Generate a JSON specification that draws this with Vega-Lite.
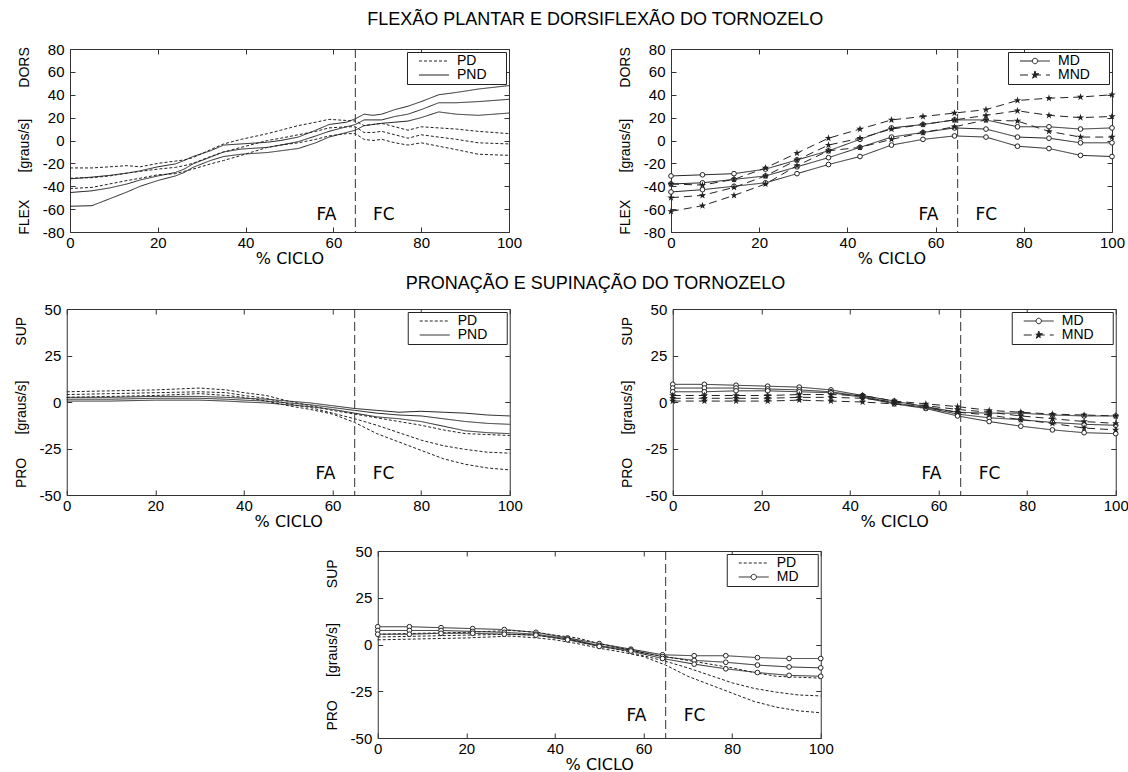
{
"$schema": "https://vega.github.io/schema/vega-lite/v6.json",
"background": "white",
"padding": {"left": 14, "top": 10, "right": 3, "bottom": 1},
"config": {
 "font": "Liberation Sans",
 "view": {"stroke": "#333", "strokeWidth": 1},
 "axis": {"grid": false, "domain": false, "ticks": true, "tickSize": -5, "tickColor": "#333", "tickWidth": 1, "labelFont": "Liberation Sans", "labelFontSize": 15, "labelColor": "#000", "labelFlush": false, "labelOverlap": false, "labelExpr": "toString(datum.value)", "titleColor": "#000", "titleFontWeight": "normal"},
 "axisBottom": {"labelPadding": 8, "titleFont": "DejaVu Sans", "titleFontSize": 16, "titlePadding": 0, "minExtent": 18, "maxExtent": 18},
 "axisLeft": {"labelPadding": 11, "titleFont": "Liberation Sans", "titleFontSize": 14, "titlePadding": 10, "minExtent": 28, "maxExtent": 28},
 "axisTop": {"labels": false},
 "axisRight": {"labels": false},
 "legend": {"orient": "top-right", "offset": 3, "padding": 2, "strokeColor": "#222", "fillColor": "white", "cornerRadius": 0, "labelFont": "Liberation Sans", "labelFontSize": 14, "labelColor": "#000", "titleOrient": "right", "titlePadding": 17, "titleFontSize": 14, "titleFont": "Liberation Sans", "symbolType": "M-5,0L5,0", "symbolSize": 36, "symbolStrokeWidth": 1, "symbolStrokeColor": "#222", "symbolFillColor": "transparent", "symbolOffset": 18, "labelOffset": 16, "rowPadding": -2},
 "title": {"font": "Liberation Sans", "fontSize": 18, "fontWeight": "normal", "color": "#000", "anchor": "middle", "baseline": "middle", "dx": 24}
},
"datasets": {
 "dors": [
  {"g":"PD","c":1,"x":0,"v":-24},{"g":"PD","c":1,"x":5,"v":-24},{"g":"PD","c":1,"x":9,"v":-23},{"g":"PD","c":1,"x":13,"v":-22},{"g":"PD","c":1,"x":16,"v":-23},{"g":"PD","c":1,"x":20,"v":-20},{"g":"PD","c":1,"x":24,"v":-18},{"g":"PD","c":1,"x":26,"v":-17},{"g":"PD","c":1,"x":28,"v":-15},{"g":"PD","c":1,"x":32,"v":-8},{"g":"PD","c":1,"x":35,"v":-3},{"g":"PD","c":1,"x":39,"v":1},{"g":"PD","c":1,"x":45,"v":6},{"g":"PD","c":1,"x":48,"v":9},{"g":"PD","c":1,"x":52,"v":13},{"g":"PD","c":1,"x":56,"v":16},{"g":"PD","c":1,"x":59,"v":18.5},{"g":"PD","c":1,"x":63,"v":17.5},{"g":"PD","c":1,"x":65,"v":17},{"g":"PD","c":1,"x":67,"v":13},{"g":"PD","c":1,"x":69,"v":14},{"g":"PD","c":1,"x":71,"v":15},{"g":"PD","c":1,"x":74,"v":12},{"g":"PD","c":1,"x":77,"v":9},{"g":"PD","c":1,"x":80,"v":12},{"g":"PD","c":1,"x":84,"v":11},{"g":"PD","c":1,"x":88,"v":10},{"g":"PD","c":1,"x":93,"v":8},{"g":"PD","c":1,"x":100,"v":6},
  {"g":"PD","c":2,"x":0,"v":-33},{"g":"PD","c":2,"x":5,"v":-32.5},{"g":"PD","c":2,"x":9,"v":-31},{"g":"PD","c":2,"x":13,"v":-28.5},{"g":"PD","c":2,"x":16,"v":-27},{"g":"PD","c":2,"x":20,"v":-25},{"g":"PD","c":2,"x":24,"v":-23.5},{"g":"PD","c":2,"x":26,"v":-22},{"g":"PD","c":2,"x":28,"v":-20},{"g":"PD","c":2,"x":32,"v":-14},{"g":"PD","c":2,"x":35,"v":-10},{"g":"PD","c":2,"x":39,"v":-6},{"g":"PD","c":2,"x":45,"v":0},{"g":"PD","c":2,"x":48,"v":2},{"g":"PD","c":2,"x":52,"v":5},{"g":"PD","c":2,"x":56,"v":8},{"g":"PD","c":2,"x":59,"v":11},{"g":"PD","c":2,"x":63,"v":12},{"g":"PD","c":2,"x":65,"v":12},{"g":"PD","c":2,"x":67,"v":7},{"g":"PD","c":2,"x":69,"v":7},{"g":"PD","c":2,"x":71,"v":8},{"g":"PD","c":2,"x":74,"v":5},{"g":"PD","c":2,"x":77,"v":2},{"g":"PD","c":2,"x":80,"v":5},{"g":"PD","c":2,"x":84,"v":3},{"g":"PD","c":2,"x":88,"v":1},{"g":"PD","c":2,"x":93,"v":-2},{"g":"PD","c":2,"x":100,"v":-3},
  {"g":"PD","c":3,"x":0,"v":-42},{"g":"PD","c":3,"x":5,"v":-41},{"g":"PD","c":3,"x":9,"v":-38},{"g":"PD","c":3,"x":13,"v":-35},{"g":"PD","c":3,"x":16,"v":-33},{"g":"PD","c":3,"x":20,"v":-30},{"g":"PD","c":3,"x":24,"v":-29},{"g":"PD","c":3,"x":26,"v":-27},{"g":"PD","c":3,"x":28,"v":-25},{"g":"PD","c":3,"x":32,"v":-20.5},{"g":"PD","c":3,"x":35,"v":-17.5},{"g":"PD","c":3,"x":39,"v":-13},{"g":"PD","c":3,"x":45,"v":-6},{"g":"PD","c":3,"x":48,"v":-4},{"g":"PD","c":3,"x":52,"v":-2},{"g":"PD","c":3,"x":56,"v":1},{"g":"PD","c":3,"x":59,"v":4},{"g":"PD","c":3,"x":63,"v":6},{"g":"PD","c":3,"x":65,"v":6},{"g":"PD","c":3,"x":67,"v":1},{"g":"PD","c":3,"x":69,"v":0},{"g":"PD","c":3,"x":71,"v":1},{"g":"PD","c":3,"x":74,"v":-2},{"g":"PD","c":3,"x":77,"v":-4},{"g":"PD","c":3,"x":80,"v":-2},{"g":"PD","c":3,"x":84,"v":-5},{"g":"PD","c":3,"x":88,"v":-8},{"g":"PD","c":3,"x":93,"v":-12},{"g":"PD","c":3,"x":100,"v":-13},
  {"g":"PND","c":1,"x":0,"v":-33.5},{"g":"PND","c":1,"x":5,"v":-32},{"g":"PND","c":1,"x":9,"v":-30.5},{"g":"PND","c":1,"x":13,"v":-28.5},{"g":"PND","c":1,"x":16,"v":-26.5},{"g":"PND","c":1,"x":20,"v":-23},{"g":"PND","c":1,"x":24,"v":-20.5},{"g":"PND","c":1,"x":26,"v":-17.5},{"g":"PND","c":1,"x":28,"v":-14},{"g":"PND","c":1,"x":32,"v":-9},{"g":"PND","c":1,"x":35,"v":-4},{"g":"PND","c":1,"x":39,"v":-3},{"g":"PND","c":1,"x":45,"v":-1.5},{"g":"PND","c":1,"x":48,"v":0},{"g":"PND","c":1,"x":52,"v":3},{"g":"PND","c":1,"x":56,"v":9},{"g":"PND","c":1,"x":59,"v":14},{"g":"PND","c":1,"x":63,"v":16},{"g":"PND","c":1,"x":65,"v":19},{"g":"PND","c":1,"x":67,"v":23},{"g":"PND","c":1,"x":69,"v":22},{"g":"PND","c":1,"x":71,"v":23},{"g":"PND","c":1,"x":74,"v":27},{"g":"PND","c":1,"x":77,"v":30},{"g":"PND","c":1,"x":80,"v":34},{"g":"PND","c":1,"x":84,"v":40},{"g":"PND","c":1,"x":88,"v":42},{"g":"PND","c":1,"x":93,"v":45},{"g":"PND","c":1,"x":100,"v":48},
  {"g":"PND","c":2,"x":0,"v":-45.5},{"g":"PND","c":2,"x":5,"v":-44},{"g":"PND","c":2,"x":9,"v":-41.5},{"g":"PND","c":2,"x":13,"v":-38},{"g":"PND","c":2,"x":16,"v":-34.5},{"g":"PND","c":2,"x":20,"v":-31},{"g":"PND","c":2,"x":24,"v":-28},{"g":"PND","c":2,"x":26,"v":-25},{"g":"PND","c":2,"x":28,"v":-20.5},{"g":"PND","c":2,"x":32,"v":-14.5},{"g":"PND","c":2,"x":35,"v":-10},{"g":"PND","c":2,"x":39,"v":-7.5},{"g":"PND","c":2,"x":45,"v":-6},{"g":"PND","c":2,"x":48,"v":-4},{"g":"PND","c":2,"x":52,"v":-1},{"g":"PND","c":2,"x":56,"v":4},{"g":"PND","c":2,"x":59,"v":8},{"g":"PND","c":2,"x":63,"v":12},{"g":"PND","c":2,"x":65,"v":14},{"g":"PND","c":2,"x":67,"v":18},{"g":"PND","c":2,"x":69,"v":18},{"g":"PND","c":2,"x":71,"v":18},{"g":"PND","c":2,"x":74,"v":21},{"g":"PND","c":2,"x":77,"v":23},{"g":"PND","c":2,"x":80,"v":27},{"g":"PND","c":2,"x":84,"v":33},{"g":"PND","c":2,"x":88,"v":33},{"g":"PND","c":2,"x":93,"v":34},{"g":"PND","c":2,"x":100,"v":36},
  {"g":"PND","c":3,"x":0,"v":-57.5},{"g":"PND","c":3,"x":5,"v":-57},{"g":"PND","c":3,"x":9,"v":-51},{"g":"PND","c":3,"x":13,"v":-45},{"g":"PND","c":3,"x":16,"v":-40},{"g":"PND","c":3,"x":20,"v":-35},{"g":"PND","c":3,"x":24,"v":-31},{"g":"PND","c":3,"x":26,"v":-28},{"g":"PND","c":3,"x":28,"v":-23.5},{"g":"PND","c":3,"x":32,"v":-17.5},{"g":"PND","c":3,"x":35,"v":-14},{"g":"PND","c":3,"x":39,"v":-12},{"g":"PND","c":3,"x":45,"v":-10.5},{"g":"PND","c":3,"x":48,"v":-9},{"g":"PND","c":3,"x":52,"v":-7},{"g":"PND","c":3,"x":56,"v":-2},{"g":"PND","c":3,"x":59,"v":3},{"g":"PND","c":3,"x":63,"v":7},{"g":"PND","c":3,"x":65,"v":9},{"g":"PND","c":3,"x":67,"v":13},{"g":"PND","c":3,"x":69,"v":14},{"g":"PND","c":3,"x":71,"v":15},{"g":"PND","c":3,"x":74,"v":16},{"g":"PND","c":3,"x":77,"v":17},{"g":"PND","c":3,"x":80,"v":20},{"g":"PND","c":3,"x":84,"v":25},{"g":"PND","c":3,"x":88,"v":23},{"g":"PND","c":3,"x":93,"v":22},{"g":"PND","c":3,"x":100,"v":24},
  {"g":"MD","c":1,"x":0,"v":-31},{"g":"MD","c":1,"x":7.14,"v":-30},{"g":"MD","c":1,"x":14.29,"v":-29},{"g":"MD","c":1,"x":21.43,"v":-25},{"g":"MD","c":1,"x":28.57,"v":-17},{"g":"MD","c":1,"x":35.71,"v":-9},{"g":"MD","c":1,"x":42.86,"v":1},{"g":"MD","c":1,"x":50,"v":11},{"g":"MD","c":1,"x":57.14,"v":14},{"g":"MD","c":1,"x":64.29,"v":18},{"g":"MD","c":1,"x":71.43,"v":18},{"g":"MD","c":1,"x":78.57,"v":12},{"g":"MD","c":1,"x":85.71,"v":12},{"g":"MD","c":1,"x":92.86,"v":10},{"g":"MD","c":1,"x":100,"v":11},
  {"g":"MD","c":2,"x":0,"v":-38},{"g":"MD","c":2,"x":7.14,"v":-37},{"g":"MD","c":2,"x":14.29,"v":-34},{"g":"MD","c":2,"x":21.43,"v":-31},{"g":"MD","c":2,"x":28.57,"v":-23},{"g":"MD","c":2,"x":35.71,"v":-15},{"g":"MD","c":2,"x":42.86,"v":-6},{"g":"MD","c":2,"x":50,"v":3},{"g":"MD","c":2,"x":57.14,"v":7},{"g":"MD","c":2,"x":64.29,"v":11},{"g":"MD","c":2,"x":71.43,"v":10},{"g":"MD","c":2,"x":78.57,"v":3},{"g":"MD","c":2,"x":85.71,"v":2},{"g":"MD","c":2,"x":92.86,"v":-2},{"g":"MD","c":2,"x":100,"v":-2},
  {"g":"MD","c":3,"x":0,"v":-45},{"g":"MD","c":3,"x":7.14,"v":-43},{"g":"MD","c":3,"x":14.29,"v":-40},{"g":"MD","c":3,"x":21.43,"v":-37},{"g":"MD","c":3,"x":28.57,"v":-29},{"g":"MD","c":3,"x":35.71,"v":-21},{"g":"MD","c":3,"x":42.86,"v":-14},{"g":"MD","c":3,"x":50,"v":-4},{"g":"MD","c":3,"x":57.14,"v":1},{"g":"MD","c":3,"x":64.29,"v":4},{"g":"MD","c":3,"x":71.43,"v":3},{"g":"MD","c":3,"x":78.57,"v":-5},{"g":"MD","c":3,"x":85.71,"v":-7},{"g":"MD","c":3,"x":92.86,"v":-13},{"g":"MD","c":3,"x":100,"v":-14},
  {"g":"MND","c":1,"x":0,"v":-38},{"g":"MND","c":1,"x":7.14,"v":-39},{"g":"MND","c":1,"x":14.29,"v":-34},{"g":"MND","c":1,"x":21.43,"v":-24},{"g":"MND","c":1,"x":28.57,"v":-11},{"g":"MND","c":1,"x":35.71,"v":2},{"g":"MND","c":1,"x":42.86,"v":10},{"g":"MND","c":1,"x":50,"v":18},{"g":"MND","c":1,"x":57.14,"v":21},{"g":"MND","c":1,"x":64.29,"v":24},{"g":"MND","c":1,"x":71.43,"v":27},{"g":"MND","c":1,"x":78.57,"v":35},{"g":"MND","c":1,"x":85.71,"v":37},{"g":"MND","c":1,"x":92.86,"v":38},{"g":"MND","c":1,"x":100,"v":40},
  {"g":"MND","c":2,"x":0,"v":-50},{"g":"MND","c":2,"x":7.14,"v":-48},{"g":"MND","c":2,"x":14.29,"v":-41},{"g":"MND","c":2,"x":21.43,"v":-31},{"g":"MND","c":2,"x":28.57,"v":-17},{"g":"MND","c":2,"x":35.71,"v":-4},{"g":"MND","c":2,"x":42.86,"v":2},{"g":"MND","c":2,"x":50,"v":10},{"g":"MND","c":2,"x":57.14,"v":14},{"g":"MND","c":2,"x":64.29,"v":18},{"g":"MND","c":2,"x":71.43,"v":22},{"g":"MND","c":2,"x":78.57,"v":26},{"g":"MND","c":2,"x":85.71,"v":22},{"g":"MND","c":2,"x":92.86,"v":20},{"g":"MND","c":2,"x":100,"v":21},
  {"g":"MND","c":3,"x":0,"v":-62},{"g":"MND","c":3,"x":7.14,"v":-57},{"g":"MND","c":3,"x":14.29,"v":-48},{"g":"MND","c":3,"x":21.43,"v":-38},{"g":"MND","c":3,"x":28.57,"v":-22},{"g":"MND","c":3,"x":35.71,"v":-9},{"g":"MND","c":3,"x":42.86,"v":-6},{"g":"MND","c":3,"x":50,"v":1},{"g":"MND","c":3,"x":57.14,"v":7},{"g":"MND","c":3,"x":64.29,"v":12},{"g":"MND","c":3,"x":71.43,"v":18},{"g":"MND","c":3,"x":78.57,"v":17},{"g":"MND","c":3,"x":85.71,"v":8},{"g":"MND","c":3,"x":92.86,"v":3},{"g":"MND","c":3,"x":100,"v":3}
 ],
 "pro": [
  {"g":"PD","c":1,"x":0,"v":5.5},{"g":"PD","c":1,"x":10,"v":6},{"g":"PD","c":1,"x":20,"v":6.5},{"g":"PD","c":1,"x":30,"v":7.5},{"g":"PD","c":1,"x":36,"v":6.5},{"g":"PD","c":1,"x":40,"v":5},{"g":"PD","c":1,"x":45,"v":3.5},{"g":"PD","c":1,"x":50,"v":0.5},{"g":"PD","c":1,"x":55,"v":-2},{"g":"PD","c":1,"x":60,"v":-4.5},{"g":"PD","c":1,"x":65,"v":-6.5},{"g":"PD","c":1,"x":70,"v":-8.5},{"g":"PD","c":1,"x":75,"v":-10.5},{"g":"PD","c":1,"x":80,"v":-12.5},{"g":"PD","c":1,"x":85,"v":-15},{"g":"PD","c":1,"x":90,"v":-17},{"g":"PD","c":1,"x":95,"v":-17.5},{"g":"PD","c":1,"x":100,"v":-18},
  {"g":"PD","c":2,"x":0,"v":4},{"g":"PD","c":2,"x":10,"v":4.5},{"g":"PD","c":2,"x":20,"v":5},{"g":"PD","c":2,"x":30,"v":5.5},{"g":"PD","c":2,"x":36,"v":5},{"g":"PD","c":2,"x":40,"v":3.5},{"g":"PD","c":2,"x":45,"v":2},{"g":"PD","c":2,"x":50,"v":-1},{"g":"PD","c":2,"x":55,"v":-3},{"g":"PD","c":2,"x":60,"v":-6},{"g":"PD","c":2,"x":65,"v":-9},{"g":"PD","c":2,"x":70,"v":-12.5},{"g":"PD","c":2,"x":75,"v":-16.5},{"g":"PD","c":2,"x":80,"v":-20.5},{"g":"PD","c":2,"x":85,"v":-23.5},{"g":"PD","c":2,"x":90,"v":-25.5},{"g":"PD","c":2,"x":95,"v":-27},{"g":"PD","c":2,"x":100,"v":-27.5},
  {"g":"PD","c":3,"x":0,"v":2.5},{"g":"PD","c":3,"x":10,"v":3},{"g":"PD","c":3,"x":20,"v":3.5},{"g":"PD","c":3,"x":30,"v":4.5},{"g":"PD","c":3,"x":36,"v":3.5},{"g":"PD","c":3,"x":40,"v":2.5},{"g":"PD","c":3,"x":45,"v":0.5},{"g":"PD","c":3,"x":50,"v":-2},{"g":"PD","c":3,"x":55,"v":-4},{"g":"PD","c":3,"x":60,"v":-6.5},{"g":"PD","c":3,"x":65,"v":-11},{"g":"PD","c":3,"x":70,"v":-17},{"g":"PD","c":3,"x":75,"v":-21.5},{"g":"PD","c":3,"x":80,"v":-26},{"g":"PD","c":3,"x":85,"v":-30.5},{"g":"PD","c":3,"x":90,"v":-33.5},{"g":"PD","c":3,"x":95,"v":-35.5},{"g":"PD","c":3,"x":100,"v":-36.5},
  {"g":"PND","c":1,"x":0,"v":2.5},{"g":"PND","c":1,"x":10,"v":2.5},{"g":"PND","c":1,"x":20,"v":3},{"g":"PND","c":1,"x":30,"v":3},{"g":"PND","c":1,"x":36,"v":2.5},{"g":"PND","c":1,"x":40,"v":2},{"g":"PND","c":1,"x":45,"v":1.5},{"g":"PND","c":1,"x":50,"v":0.5},{"g":"PND","c":1,"x":55,"v":-0.5},{"g":"PND","c":1,"x":60,"v":-2},{"g":"PND","c":1,"x":65,"v":-3.5},{"g":"PND","c":1,"x":70,"v":-4.5},{"g":"PND","c":1,"x":75,"v":-5.5},{"g":"PND","c":1,"x":80,"v":-5},{"g":"PND","c":1,"x":85,"v":-5.5},{"g":"PND","c":1,"x":90,"v":-6},{"g":"PND","c":1,"x":95,"v":-7},{"g":"PND","c":1,"x":100,"v":-7.5},
  {"g":"PND","c":2,"x":0,"v":1.5},{"g":"PND","c":2,"x":10,"v":1.5},{"g":"PND","c":2,"x":20,"v":2},{"g":"PND","c":2,"x":30,"v":2},{"g":"PND","c":2,"x":36,"v":1.5},{"g":"PND","c":2,"x":40,"v":1},{"g":"PND","c":2,"x":45,"v":0.5},{"g":"PND","c":2,"x":50,"v":-0.5},{"g":"PND","c":2,"x":55,"v":-1.5},{"g":"PND","c":2,"x":60,"v":-3},{"g":"PND","c":2,"x":65,"v":-4.5},{"g":"PND","c":2,"x":70,"v":-6},{"g":"PND","c":2,"x":75,"v":-7},{"g":"PND","c":2,"x":80,"v":-7.5},{"g":"PND","c":2,"x":85,"v":-9},{"g":"PND","c":2,"x":90,"v":-10.5},{"g":"PND","c":2,"x":95,"v":-11.5},{"g":"PND","c":2,"x":100,"v":-12},
  {"g":"PND","c":3,"x":0,"v":0.5},{"g":"PND","c":3,"x":10,"v":0.5},{"g":"PND","c":3,"x":20,"v":1},{"g":"PND","c":3,"x":30,"v":1},{"g":"PND","c":3,"x":36,"v":0.5},{"g":"PND","c":3,"x":40,"v":0},{"g":"PND","c":3,"x":45,"v":-0.5},{"g":"PND","c":3,"x":50,"v":-1.5},{"g":"PND","c":3,"x":55,"v":-2.5},{"g":"PND","c":3,"x":60,"v":-4},{"g":"PND","c":3,"x":65,"v":-6},{"g":"PND","c":3,"x":70,"v":-8},{"g":"PND","c":3,"x":75,"v":-9},{"g":"PND","c":3,"x":80,"v":-10.5},{"g":"PND","c":3,"x":85,"v":-13},{"g":"PND","c":3,"x":90,"v":-15.5},{"g":"PND","c":3,"x":95,"v":-16.5},{"g":"PND","c":3,"x":100,"v":-17},
  {"g":"MD","c":1,"x":0,"v":9.5},{"g":"MD","c":1,"x":7.14,"v":9.5},{"g":"MD","c":1,"x":14.29,"v":9},{"g":"MD","c":1,"x":21.43,"v":8.5},{"g":"MD","c":1,"x":28.57,"v":8},{"g":"MD","c":1,"x":35.71,"v":6.5},{"g":"MD","c":1,"x":42.86,"v":3.5},{"g":"MD","c":1,"x":50,"v":0.5},{"g":"MD","c":1,"x":57.14,"v":-2.5},{"g":"MD","c":1,"x":64.29,"v":-5.5},{"g":"MD","c":1,"x":71.43,"v":-6},{"g":"MD","c":1,"x":78.57,"v":-6},{"g":"MD","c":1,"x":85.71,"v":-7},{"g":"MD","c":1,"x":92.86,"v":-7.5},{"g":"MD","c":1,"x":100,"v":-7.5},
  {"g":"MD","c":2,"x":0,"v":7.5},{"g":"MD","c":2,"x":7.14,"v":7.5},{"g":"MD","c":2,"x":14.29,"v":7.5},{"g":"MD","c":2,"x":21.43,"v":7},{"g":"MD","c":2,"x":28.57,"v":6.5},{"g":"MD","c":2,"x":35.71,"v":5.5},{"g":"MD","c":2,"x":42.86,"v":3},{"g":"MD","c":2,"x":50,"v":-0.5},{"g":"MD","c":2,"x":57.14,"v":-3},{"g":"MD","c":2,"x":64.29,"v":-6.5},{"g":"MD","c":2,"x":71.43,"v":-8.5},{"g":"MD","c":2,"x":78.57,"v":-9.5},{"g":"MD","c":2,"x":85.71,"v":-11},{"g":"MD","c":2,"x":92.86,"v":-12},{"g":"MD","c":2,"x":100,"v":-12.5},
  {"g":"MD","c":3,"x":0,"v":5.5},{"g":"MD","c":3,"x":7.14,"v":5.5},{"g":"MD","c":3,"x":14.29,"v":6},{"g":"MD","c":3,"x":21.43,"v":6},{"g":"MD","c":3,"x":28.57,"v":5.5},{"g":"MD","c":3,"x":35.71,"v":5},{"g":"MD","c":3,"x":42.86,"v":2.5},{"g":"MD","c":3,"x":50,"v":-1},{"g":"MD","c":3,"x":57.14,"v":-3.5},{"g":"MD","c":3,"x":64.29,"v":-7.5},{"g":"MD","c":3,"x":71.43,"v":-10.5},{"g":"MD","c":3,"x":78.57,"v":-13},{"g":"MD","c":3,"x":85.71,"v":-15},{"g":"MD","c":3,"x":92.86,"v":-16.5},{"g":"MD","c":3,"x":100,"v":-17},
  {"g":"MND","c":1,"x":0,"v":3.5},{"g":"MND","c":1,"x":7.14,"v":3.5},{"g":"MND","c":1,"x":14.29,"v":3.5},{"g":"MND","c":1,"x":21.43,"v":3.5},{"g":"MND","c":1,"x":28.57,"v":4},{"g":"MND","c":1,"x":35.71,"v":4},{"g":"MND","c":1,"x":42.86,"v":3.5},{"g":"MND","c":1,"x":50,"v":0.5},{"g":"MND","c":1,"x":57.14,"v":-1},{"g":"MND","c":1,"x":64.29,"v":-2.5},{"g":"MND","c":1,"x":71.43,"v":-4.5},{"g":"MND","c":1,"x":78.57,"v":-5.5},{"g":"MND","c":1,"x":85.71,"v":-6.5},{"g":"MND","c":1,"x":92.86,"v":-7},{"g":"MND","c":1,"x":100,"v":-7.5},
  {"g":"MND","c":2,"x":0,"v":2},{"g":"MND","c":2,"x":7.14,"v":2},{"g":"MND","c":2,"x":14.29,"v":2},{"g":"MND","c":2,"x":21.43,"v":2},{"g":"MND","c":2,"x":28.57,"v":2.5},{"g":"MND","c":2,"x":35.71,"v":2.5},{"g":"MND","c":2,"x":42.86,"v":2},{"g":"MND","c":2,"x":50,"v":0},{"g":"MND","c":2,"x":57.14,"v":-2},{"g":"MND","c":2,"x":64.29,"v":-4},{"g":"MND","c":2,"x":71.43,"v":-5.5},{"g":"MND","c":2,"x":78.57,"v":-7.5},{"g":"MND","c":2,"x":85.71,"v":-9},{"g":"MND","c":2,"x":92.86,"v":-10.5},{"g":"MND","c":2,"x":100,"v":-11.5},
  {"g":"MND","c":3,"x":0,"v":0.5},{"g":"MND","c":3,"x":7.14,"v":0.5},{"g":"MND","c":3,"x":14.29,"v":0.5},{"g":"MND","c":3,"x":21.43,"v":0.5},{"g":"MND","c":3,"x":28.57,"v":1},{"g":"MND","c":3,"x":35.71,"v":0.5},{"g":"MND","c":3,"x":42.86,"v":0},{"g":"MND","c":3,"x":50,"v":-1},{"g":"MND","c":3,"x":57.14,"v":-3},{"g":"MND","c":3,"x":64.29,"v":-5.5},{"g":"MND","c":3,"x":71.43,"v":-7},{"g":"MND","c":3,"x":78.57,"v":-9.5},{"g":"MND","c":3,"x":85.71,"v":-11.5},{"g":"MND","c":3,"x":92.86,"v":-14},{"g":"MND","c":3,"x":100,"v":-15}
 ]
},
"resolve": {"scale": {"x": "independent", "y": "independent", "strokeDash": "independent"}, "legend": {"strokeDash": "independent"}},
"spacing": 7, "center": true,
"vconcat": [
 {
  "title": {"text": "FLEXÃO PLANTAR E DORSIFLEXÃO DO TORNOZELO", "offset": 13},
  "spacing": 162, "bounds": "flush",
  "resolve": {"scale": {"x": "independent", "y": "independent", "strokeDash": "independent"}, "legend": {"strokeDash": "independent"}},
  "hconcat": [
   {
    "width": 439, "height": 183,
    "resolve": {"axis": {"x": "independent", "y": "independent"}},
    "layer": [
     {"data": {"name": "dors"}, "transform": [{"filter": "datum.g === 'PD' || datum.g === 'PND'"}],
      "mark": {"type": "line", "color": "#222", "strokeWidth": 1},
      "encoding": {
       "x": {"field": "x", "type": "quantitative", "scale": {"domain": [0, 100]}, "axis": {"orient": "bottom", "values": [0, 20, 40, 60, 80, 100], "title": "% CICLO"}},
       "y": {"field": "v", "type": "quantitative", "scale": {"domain": [-80, 80]}, "axis": {"orient": "left", "values": [-80, -60, -40, -20, 0, 20, 40, 60, 80], "title": "FLEX\u00a0\u00a0\u00a0\u00a0\u00a0\u00a0\u00a0[graus/s]\u00a0\u00a0\u00a0\u00a0\u00a0\u00a0\u00a0\u00a0DORS"}},
       "detail": {"field": "c"},
       "strokeDash": {"field": "g", "type": "nominal", "scale": {"domain": ["PD", "PND"], "range": [[3, 2], [1, 0]]},
        "legend": {"title": "\u00a0", "encode": {"symbols": {"update": {"shape": {"value": "M-5,0L5,0"}, "stroke": {"value": "#222"}, "strokeWidth": {"value": 1}, "fill": {"value": "transparent"}, "opacity": {"value": 1}}}}}}
      }},
     {"data": {"values": [{}]}, "mark": {"type": "rule", "color": "#333", "strokeWidth": 1, "strokeDash": [9, 4]},
      "encoding": {"x": {"datum": 65, "type": "quantitative", "axis": {"orient": "top", "values": [0, 20, 40, 60, 80, 100], "title": null}}}},
     {"data": {"values": [{}]}, "mark": {"type": "text", "font": "DejaVu Sans", "fontSize": 17, "color": "#000"},
      "encoding": {"x": {"datum": 58.4, "type": "quantitative", "axis": null}, "y": {"datum": -65, "type": "quantitative", "axis": {"orient": "right", "values": [-80, -60, -40, -20, 0, 20, 40, 60, 80], "title": null}}, "text": {"value": "FA"}}},
     {"data": {"values": [{}]}, "mark": {"type": "text", "font": "DejaVu Sans", "fontSize": 17, "color": "#000"},
      "encoding": {"x": {"datum": 71.5, "type": "quantitative", "axis": null}, "y": {"datum": -65, "type": "quantitative", "axis": null}, "text": {"value": "FC"}}}
    ]
   },
   {
    "width": 441, "height": 183,
    "resolve": {"axis": {"x": "independent", "y": "independent"}},
    "layer": [
     {"data": {"name": "dors"}, "transform": [{"filter": "datum.g === 'MD' || datum.g === 'MND'"}],
      "mark": {"type": "line", "color": "#222", "strokeWidth": 1},
      "encoding": {
       "x": {"field": "x", "type": "quantitative", "scale": {"domain": [0, 100]}, "axis": {"orient": "bottom", "values": [0, 20, 40, 60, 80, 100], "title": "% CICLO"}},
       "y": {"field": "v", "type": "quantitative", "scale": {"domain": [-80, 80]}, "axis": {"orient": "left", "values": [-80, -60, -40, -20, 0, 20, 40, 60, 80], "title": "FLEX\u00a0\u00a0\u00a0\u00a0\u00a0\u00a0\u00a0[graus/s]\u00a0\u00a0\u00a0\u00a0\u00a0\u00a0\u00a0\u00a0DORS"}},
       "detail": {"field": "c"},
       "strokeDash": {"field": "g", "type": "nominal", "scale": {"domain": ["MD", "MND"], "range": [[1, 0], [8, 5]]},
        "legend": {"title": "\u00a0", "encode": {"symbols": {"update": {
          "shape": {"signal": "datum.value === 'MD' ? 'M-5,0L-0.9,0M0.9,0L5,0M-0.9,0A0.9,0.9 0 1,1 0.9,0A0.9,0.9 0 1,1 -0.9,0' : 'M-5,0L5,0M0,-1.33L0.3,-0.41L1.26,-0.41L0.48,0.16L0.78,1.08L0,0.51L-0.78,1.08L-0.48,0.16L-1.26,-0.41L-0.3,-0.41Z'"},
          "fill": {"signal": "datum.value === 'MD' ? 'white' : '#222'"}, "stroke": {"value": "#222"}, "strokeWidth": {"value": 1}, "opacity": {"value": 1}}}}}}
      }},
     {"data": {"name": "dors"}, "transform": [{"filter": "datum.g === 'MD'"}],
      "mark": {"type": "point", "shape": "circle", "filled": true, "fill": "white", "stroke": "#222", "strokeWidth": 1, "size": 22, "opacity": 1},
      "encoding": {"x": {"field": "x", "type": "quantitative", "axis": null}, "y": {"field": "v", "type": "quantitative", "axis": null}}},
     {"data": {"name": "dors"}, "transform": [{"filter": "datum.g === 'MND'"}],
      "mark": {"type": "point", "shape": "M0,-1L0.225,-0.309L0.951,-0.309L0.363,0.118L0.588,0.809L0,0.382L-0.588,0.809L-0.363,0.118L-0.951,-0.309L-0.225,-0.309Z", "filled": true, "color": "#222", "size": 60, "opacity": 1},
      "encoding": {"x": {"field": "x", "type": "quantitative", "axis": null}, "y": {"field": "v", "type": "quantitative", "axis": null}}},
     {"data": {"values": [{}]}, "mark": {"type": "rule", "color": "#333", "strokeWidth": 1, "strokeDash": [9, 4]},
      "encoding": {"x": {"datum": 65, "type": "quantitative", "axis": {"orient": "top", "values": [0, 20, 40, 60, 80, 100], "title": null}}}},
     {"data": {"values": [{}]}, "mark": {"type": "text", "font": "DejaVu Sans", "fontSize": 17, "color": "#000"},
      "encoding": {"x": {"datum": 58.4, "type": "quantitative", "axis": null}, "y": {"datum": -65, "type": "quantitative", "axis": {"orient": "right", "values": [-80, -60, -40, -20, 0, 20, 40, 60, 80], "title": null}}, "text": {"value": "FA"}}},
     {"data": {"values": [{}]}, "mark": {"type": "text", "font": "DejaVu Sans", "fontSize": 17, "color": "#000"},
      "encoding": {"x": {"datum": 71.5, "type": "quantitative", "axis": null}, "y": {"datum": -65, "type": "quantitative", "axis": null}, "text": {"value": "FC"}}}
    ]
   }
  ]
 },
 {
  "spacing": 13, "center": true,
  "resolve": {"scale": {"x": "independent", "y": "independent", "strokeDash": "independent"}, "legend": {"strokeDash": "independent"}},
  "vconcat": [
   {
    "title": {"text": "PRONAÇÃO E SUPINAÇÃO DO TORNOZELO", "offset": 9},
    "spacing": 163, "bounds": "flush",
    "resolve": {"scale": {"x": "independent", "y": "independent", "strokeDash": "independent"}, "legend": {"strokeDash": "independent"}},
    "hconcat": [
     {
      "width": 443, "height": 186,
      "resolve": {"axis": {"x": "independent", "y": "independent"}},
      "layer": [
       {"data": {"name": "pro"}, "transform": [{"filter": "datum.g === 'PD' || datum.g === 'PND'"}],
        "mark": {"type": "line", "color": "#222", "strokeWidth": 1},
        "encoding": {
         "x": {"field": "x", "type": "quantitative", "scale": {"domain": [0, 100]}, "axis": {"orient": "bottom", "values": [0, 20, 40, 60, 80, 100], "title": "% CICLO"}},
         "y": {"field": "v", "type": "quantitative", "scale": {"domain": [-50, 50]}, "axis": {"orient": "left", "values": [-50, -25, 0, 25, 50], "title": "PRO\u00a0\u00a0\u00a0\u00a0\u00a0\u00a0[graus/s]\u00a0\u00a0\u00a0\u00a0\u00a0\u00a0\u00a0\u00a0\u00a0SUP"}},
         "detail": {"field": "c"},
         "strokeDash": {"field": "g", "type": "nominal", "scale": {"domain": ["PD", "PND"], "range": [[3, 2], [1, 0]]},
          "legend": {"title": "\u00a0", "encode": {"symbols": {"update": {"shape": {"value": "M-5,0L5,0"}, "stroke": {"value": "#222"}, "strokeWidth": {"value": 1}, "fill": {"value": "transparent"}, "opacity": {"value": 1}}}}}}
        }},
       {"data": {"values": [{}]}, "mark": {"type": "rule", "color": "#333", "strokeWidth": 1, "strokeDash": [9, 4]},
        "encoding": {"x": {"datum": 65, "type": "quantitative", "axis": {"orient": "top", "values": [0, 20, 40, 60, 80, 100], "title": null}}}},
       {"data": {"values": [{}]}, "mark": {"type": "text", "font": "DejaVu Sans", "fontSize": 17, "color": "#000"},
        "encoding": {"x": {"datum": 58.4, "type": "quantitative", "axis": null}, "y": {"datum": -38.5, "type": "quantitative", "axis": {"orient": "right", "values": [-50, -25, 0, 25, 50], "title": null}}, "text": {"value": "FA"}}},
       {"data": {"values": [{}]}, "mark": {"type": "text", "font": "DejaVu Sans", "fontSize": 17, "color": "#000"},
        "encoding": {"x": {"datum": 71.5, "type": "quantitative", "axis": null}, "y": {"datum": -38.5, "type": "quantitative", "axis": null}, "text": {"value": "FC"}}}
      ]
     },
     {
      "width": 443, "height": 186,
      "resolve": {"axis": {"x": "independent", "y": "independent"}},
      "layer": [
       {"data": {"name": "pro"}, "transform": [{"filter": "datum.g === 'MD' || datum.g === 'MND'"}],
        "mark": {"type": "line", "color": "#222", "strokeWidth": 1},
        "encoding": {
         "x": {"field": "x", "type": "quantitative", "scale": {"domain": [0, 100]}, "axis": {"orient": "bottom", "values": [0, 20, 40, 60, 80, 100], "title": "% CICLO"}},
         "y": {"field": "v", "type": "quantitative", "scale": {"domain": [-50, 50]}, "axis": {"orient": "left", "values": [-50, -25, 0, 25, 50], "title": "PRO\u00a0\u00a0\u00a0\u00a0\u00a0\u00a0[graus/s]\u00a0\u00a0\u00a0\u00a0\u00a0\u00a0\u00a0\u00a0\u00a0SUP"}},
         "detail": {"field": "c"},
         "strokeDash": {"field": "g", "type": "nominal", "scale": {"domain": ["MD", "MND"], "range": [[1, 0], [8, 5]]},
          "legend": {"title": "\u00a0", "encode": {"symbols": {"update": {
            "shape": {"signal": "datum.value === 'MD' ? 'M-5,0L-0.9,0M0.9,0L5,0M-0.9,0A0.9,0.9 0 1,1 0.9,0A0.9,0.9 0 1,1 -0.9,0' : 'M-5,0L5,0M0,-1.33L0.3,-0.41L1.26,-0.41L0.48,0.16L0.78,1.08L0,0.51L-0.78,1.08L-0.48,0.16L-1.26,-0.41L-0.3,-0.41Z'"},
            "fill": {"signal": "datum.value === 'MD' ? 'white' : '#222'"}, "stroke": {"value": "#222"}, "strokeWidth": {"value": 1}, "opacity": {"value": 1}}}}}}
        }},
       {"data": {"name": "pro"}, "transform": [{"filter": "datum.g === 'MD'"}],
        "mark": {"type": "point", "shape": "circle", "filled": true, "fill": "white", "stroke": "#222", "strokeWidth": 1, "size": 22, "opacity": 1},
        "encoding": {"x": {"field": "x", "type": "quantitative", "axis": null}, "y": {"field": "v", "type": "quantitative", "axis": null}}},
       {"data": {"name": "pro"}, "transform": [{"filter": "datum.g === 'MND'"}],
        "mark": {"type": "point", "shape": "M0,-1L0.225,-0.309L0.951,-0.309L0.363,0.118L0.588,0.809L0,0.382L-0.588,0.809L-0.363,0.118L-0.951,-0.309L-0.225,-0.309Z", "filled": true, "color": "#222", "size": 60, "opacity": 1},
        "encoding": {"x": {"field": "x", "type": "quantitative", "axis": null}, "y": {"field": "v", "type": "quantitative", "axis": null}}},
       {"data": {"values": [{}]}, "mark": {"type": "rule", "color": "#333", "strokeWidth": 1, "strokeDash": [9, 4]},
        "encoding": {"x": {"datum": 65, "type": "quantitative", "axis": {"orient": "top", "values": [0, 20, 40, 60, 80, 100], "title": null}}}},
       {"data": {"values": [{}]}, "mark": {"type": "text", "font": "DejaVu Sans", "fontSize": 17, "color": "#000"},
        "encoding": {"x": {"datum": 58.4, "type": "quantitative", "axis": null}, "y": {"datum": -38.5, "type": "quantitative", "axis": {"orient": "right", "values": [-50, -25, 0, 25, 50], "title": null}}, "text": {"value": "FA"}}},
       {"data": {"values": [{}]}, "mark": {"type": "text", "font": "DejaVu Sans", "fontSize": 17, "color": "#000"},
        "encoding": {"x": {"datum": 71.5, "type": "quantitative", "axis": null}, "y": {"datum": -38.5, "type": "quantitative", "axis": null}, "text": {"value": "FC"}}}
      ]
     }
    ]
   },
   {
    "spacing": 8, "bounds": "flush",
    "resolve": {"scale": {"x": "independent", "y": "independent", "strokeDash": "independent"}, "legend": {"strokeDash": "independent"}},
    "hconcat": [
     {"width": 8, "height": 10, "data": {"values": []}, "mark": "point", "view": {"stroke": null}},
     {
      "width": 443, "height": 187,
      "resolve": {"axis": {"x": "independent", "y": "independent"}},
      "layer": [
       {"data": {"name": "pro"}, "transform": [{"filter": "datum.g === 'PD' || datum.g === 'MD'"}],
        "mark": {"type": "line", "color": "#222", "strokeWidth": 1},
        "encoding": {
         "x": {"field": "x", "type": "quantitative", "scale": {"domain": [0, 100]}, "axis": {"orient": "bottom", "values": [0, 20, 40, 60, 80, 100], "title": "% CICLO"}},
         "y": {"field": "v", "type": "quantitative", "scale": {"domain": [-50, 50]}, "axis": {"orient": "left", "values": [-50, -25, 0, 25, 50], "title": "PRO\u00a0\u00a0\u00a0\u00a0\u00a0\u00a0[graus/s]\u00a0\u00a0\u00a0\u00a0\u00a0\u00a0\u00a0\u00a0\u00a0SUP"}},
         "detail": {"field": "c"},
         "strokeDash": {"field": "g", "type": "nominal", "scale": {"domain": ["PD", "MD"], "range": [[3, 2], [1, 0]]},
          "legend": {"title": "\u00a0", "encode": {"symbols": {"update": {
            "shape": {"signal": "datum.value === 'MD' ? 'M-5,0L-0.9,0M0.9,0L5,0M-0.9,0A0.9,0.9 0 1,1 0.9,0A0.9,0.9 0 1,1 -0.9,0' : 'M-5,0L5,0'"},
            "fill": {"signal": "datum.value === 'MD' ? 'white' : 'transparent'"}, "stroke": {"value": "#222"}, "strokeWidth": {"value": 1}, "opacity": {"value": 1}}}}}}
        }},
       {"data": {"name": "pro"}, "transform": [{"filter": "datum.g === 'MD'"}],
        "mark": {"type": "point", "shape": "circle", "filled": true, "fill": "white", "stroke": "#222", "strokeWidth": 1, "size": 22, "opacity": 1},
        "encoding": {"x": {"field": "x", "type": "quantitative", "axis": null}, "y": {"field": "v", "type": "quantitative", "axis": null}}},
       {"data": {"values": [{}]}, "mark": {"type": "rule", "color": "#333", "strokeWidth": 1, "strokeDash": [9, 4]},
        "encoding": {"x": {"datum": 65, "type": "quantitative", "axis": {"orient": "top", "values": [0, 20, 40, 60, 80, 100], "title": null}}}},
       {"data": {"values": [{}]}, "mark": {"type": "text", "font": "DejaVu Sans", "fontSize": 17, "color": "#000"},
        "encoding": {"x": {"datum": 58.4, "type": "quantitative", "axis": null}, "y": {"datum": -38.5, "type": "quantitative", "axis": {"orient": "right", "values": [-50, -25, 0, 25, 50], "title": null}}, "text": {"value": "FA"}}},
       {"data": {"values": [{}]}, "mark": {"type": "text", "font": "DejaVu Sans", "fontSize": 17, "color": "#000"},
        "encoding": {"x": {"datum": 71.5, "type": "quantitative", "axis": null}, "y": {"datum": -38.5, "type": "quantitative", "axis": null}, "text": {"value": "FC"}}}
      ]
     }
    ]
   }
  ]
 }
]
}
